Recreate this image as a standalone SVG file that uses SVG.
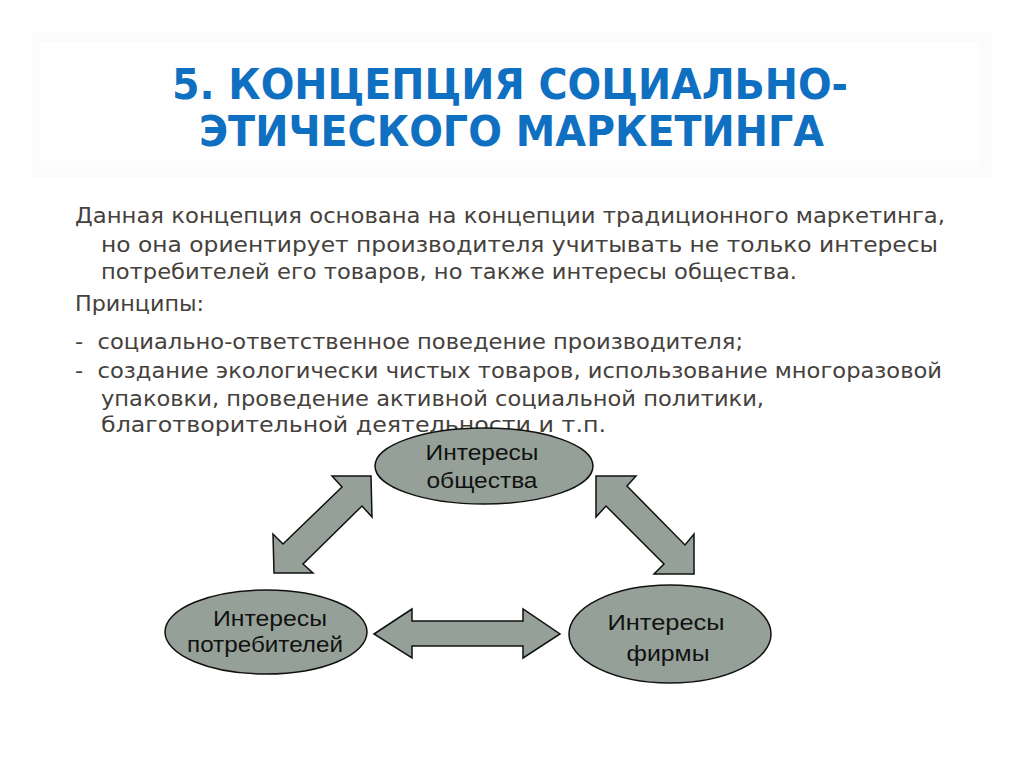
<svg xmlns="http://www.w3.org/2000/svg" width="1024" height="768" viewBox="0 0 1024 768">
<style>
.title{font-family:"DejaVu Sans Condensed","DejaVu Sans",sans-serif;font-weight:bold;font-size:43px;fill:#0f6fc0}
.body{font-family:"DejaVu Sans",sans-serif;font-size:22px;fill:#45413c}
.node ellipse{fill:#95a198;stroke:#111;stroke-width:1.5}
.node text{font-family:"Liberation Sans",Arial,sans-serif;font-size:22px;fill:#111;text-anchor:middle}
.arrow{fill:#95a198;stroke:#111;stroke-width:1.5;stroke-linejoin:miter}
</style>
<rect width="1024" height="768" fill="#ffffff"/>
<rect x="32" y="32" width="960" height="146" fill="#fbfbfb"/>
<rect x="40" y="42" width="940" height="125" fill="#fefefe"/>
<text class="title" x="172" y="99" textLength="676" lengthAdjust="spacingAndGlyphs">5. КОНЦЕПЦИЯ СОЦИАЛЬНО-</text>
<text class="title" x="199" y="146" textLength="625" lengthAdjust="spacingAndGlyphs">ЭТИЧЕСКОГО МАРКЕТИНГА</text>
<g id="body-text">
<text class="body" x="75" y="223" textLength="870" lengthAdjust="spacingAndGlyphs">Данная концепция основана на концепции традиционного маркетинга,</text>
<text class="body" x="101" y="252" textLength="837" lengthAdjust="spacingAndGlyphs">но она ориентирует производителя учитывать не только интересы</text>
<text class="body" x="101" y="279" textLength="696" lengthAdjust="spacingAndGlyphs">потребителей его товаров, но также интересы общества.</text>
<text class="body" x="75" y="311" textLength="129" lengthAdjust="spacingAndGlyphs">Принципы:</text>
<text class="body" x="75" y="349" xml:space="preserve" textLength="668" lengthAdjust="spacingAndGlyphs">-  социально-ответственное поведение производителя;</text>
<text class="body" x="75" y="378" xml:space="preserve" textLength="867" lengthAdjust="spacingAndGlyphs">-  создание экологически чистых товаров, использование многоразовой</text>
<text class="body" x="101" y="406" textLength="663" lengthAdjust="spacingAndGlyphs">упаковки, проведение активной социальной политики,</text>
<text class="body" x="101" y="432" textLength="505" lengthAdjust="spacingAndGlyphs">благотворительной деятельности и т.п.</text>
</g>
<g id="connectors">
<polygon class="arrow" points="374,634 412,609 412,621 523,621 523,609 560,634 523,658 523,646 412,646 412,658"/>
<polygon class="arrow" points="371,476 332,476 342,487 283,544 273,534 274,573 313,573 303,564 362,506 372,517"/>
<polygon class="arrow" points="596,476 636,476 627,486 685,545 694,534 694,574 654,574 664,564 606,506 596,517"/>
</g>
<g id="node-society" class="node">
<ellipse cx="484" cy="466" rx="109" ry="38"/>
<text x="482" y="460" textLength="113" lengthAdjust="spacingAndGlyphs">Интересы</text>
<text x="482" y="488" textLength="111" lengthAdjust="spacingAndGlyphs">общества</text>
</g>
<g id="node-consumers" class="node">
<ellipse cx="266" cy="632" rx="101" ry="42"/>
<text x="270" y="626" textLength="114" lengthAdjust="spacingAndGlyphs">Интересы</text>
<text x="265" y="652" textLength="156" lengthAdjust="spacingAndGlyphs">потребителей</text>
</g>
<g id="node-firm" class="node">
<ellipse cx="670" cy="634" rx="101" ry="49"/>
<text x="666" y="630" textLength="117" lengthAdjust="spacingAndGlyphs">Интересы</text>
<text x="668" y="661" textLength="83" lengthAdjust="spacingAndGlyphs">фирмы</text>
</g>
</svg>
